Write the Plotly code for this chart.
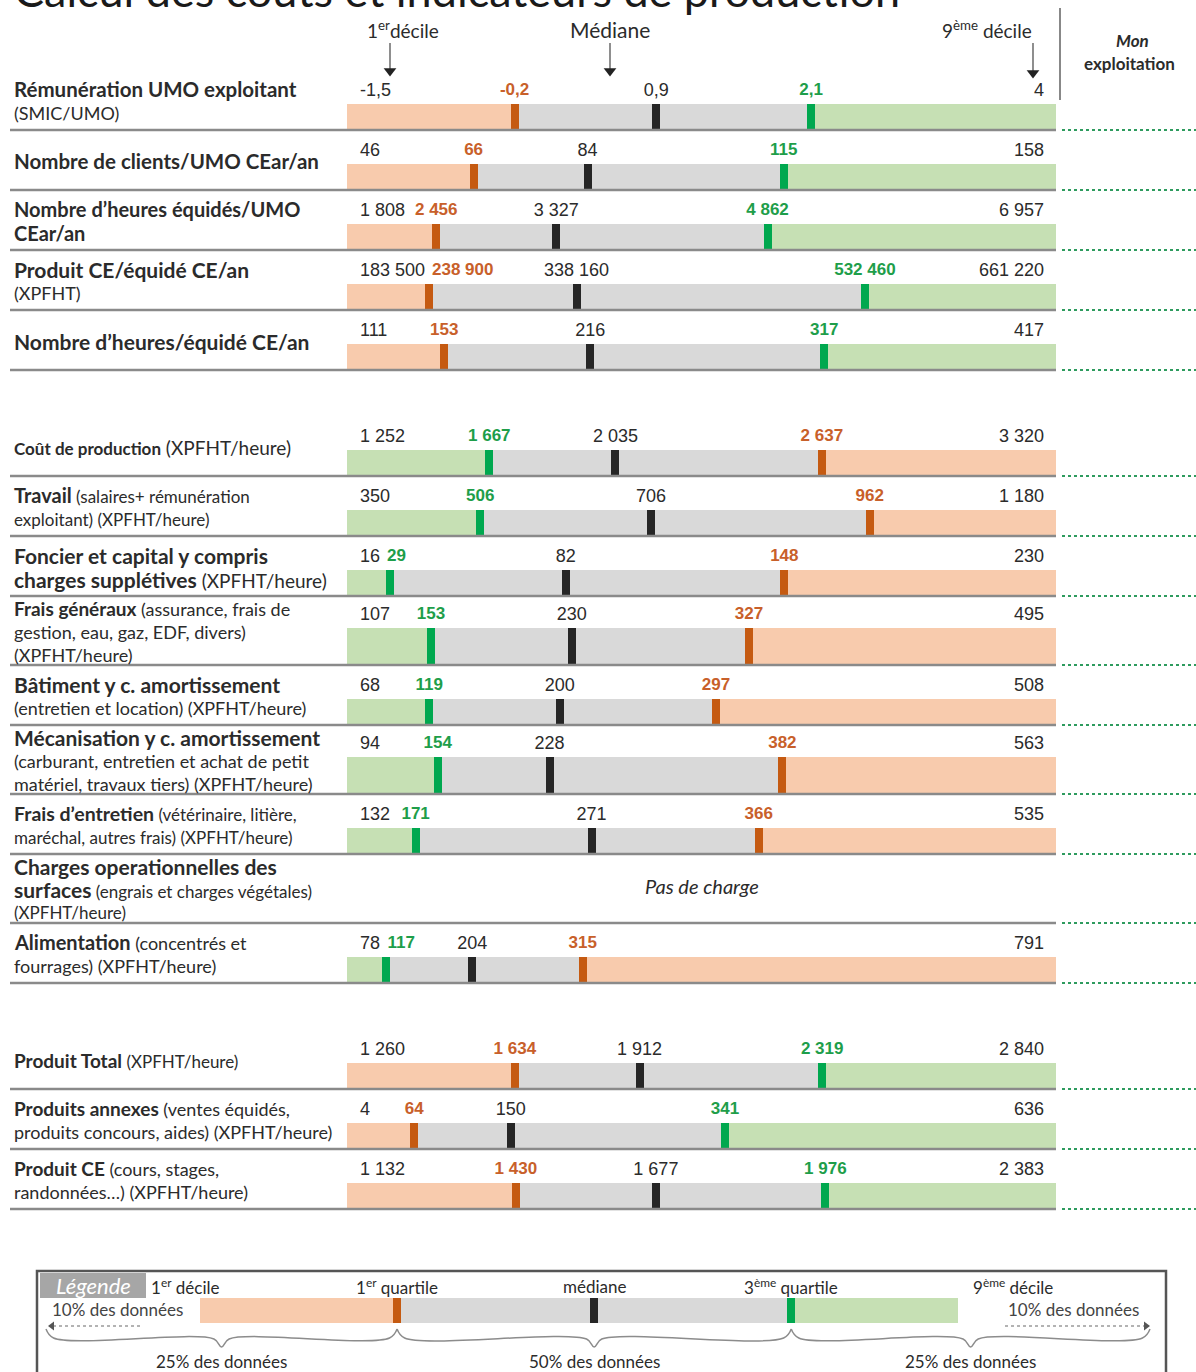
import plotly.graph_objects as go

W, H = 1196, 1372

# ---------------- data ----------------
row_titles = [
    "Rémunération UMO exploitant",
    "Nombre de clients/UMO CEar/an",
    "Nombre d’heures équidés/UMO\nCEar/an",
    "Produit CE/équidé CE/an",
    "Nombre d’heures/équidé CE/an",
    "Coût de production",
    "Travail",
    "Foncier et capital y compris\ncharges supplétives",
    "Frais généraux",
    "Bâtiment y c. amortissement",
    "Mécanisation y c. amortissement",
    "Frais d’entretien",
    "Charges operationnelles des\nsurfaces",
    "Alimentation",
    "Produit Total",
    "Produits annexes",
    "Produit CE",
]
row_details = [
    "\n(SMIC/UMO)",
    "",
    "",
    "\n(XPFHT)",
    "",
    " (XPFHT/heure)",
    " (salaires+ rémunération\nexploitant) (XPFHT/heure)",
    " (XPFHT/heure)",
    " (assurance, frais de\ngestion, eau, gaz, EDF, divers)\n(XPFHT/heure)",
    "\n(entretien et location) (XPFHT/heure)",
    "\n(carburant, entretien et achat de petit\nmatériel, travaux tiers) (XPFHT/heure)",
    " (vétérinaire, litière,\nmaréchal, autres frais) (XPFHT/heure)",
    " (engrais et charges végétales)\n(XPFHT/heure)",
    " (concentrés et\nfourrages) (XPFHT/heure)",
    " (XPFHT/heure)",
    " (ventes équidés,\nproduits concours, aides) (XPFHT/heure)",
    " (cours, stages,\nrandonnées…) (XPFHT/heure)",
]
decile1 = [-1.5, 46, 1808, 183500, 111, 1252, 350, 16, 107, 68, 94, 132, None, 78, 1260, 4, 1132]
quart1 = [-0.2, 66, 2456, 238900, 153, 1667, 506, 29, 153, 119, 154, 171, None, 117, 1634, 64, 1430]
median = [0.9, 84, 3327, 338160, 216, 2035, 706, 82, 230, 200, 228, 271, None, 204, 1912, 150, 1677]
quart3 = [2.1, 115, 4862, 532460, 317, 2637, 962, 148, 327, 297, 382, 366, None, 315, 2319, 341, 1976]
decile9 = [4, 158, 6957, 661220, 417, 3320, 1180, 230, 495, 508, 563, 535, None, 791, 2840, 636, 2383]
section = [0, 0, 0, 0, 0, 1, 1, 1, 1, 1, 1, 1, 1, 1, 2, 2, 2]
high_is_good = {0: True, 1: False, 2: True}
no_data_text = "Pas de charge"

legend_stats = [0, 26, 52, 78, 100]   # schematic example for the legend bar
legend_top = ["1<sup>er</sup> décile", "1<sup>er</sup> quartile", "médiane", "3<sup>ème</sup> quartile", "9<sup>ème</sup> décile"]
legend_bottom = ["25% des données", "50% des données", "25% des données"]

title_text = "Calcul des coûts et indicateurs de production"

# ---------------- styles ----------------
ORANGE_L, GRAY, GREEN_L = "#F8CBAD", "#D9D9D9", "#C6E0B4"
ORANGE_M, GREEN_M, DARK = "#C55A11", "#00A84F", "#262626"
ORANGE_T, GREEN_T = "#C8602A", "#1E9E4A"
TXT = "#2b2b2b"
LBL_FONT = "Lato, 'Open Sans', sans-serif"
NUM_FONT = "'Liberation Sans', Arial, sans-serif"
main_size = [20.5, 20.5, 20, 21, 21, 17, 20, 21, 19, 21, 21, 19.5, 21, 20, 19, 19, 19]
detail_size = [18, 18, 18, 18, 18, 19, 17, 19, 18, 18, 18, 17, 17, 18, 17, 18, 18]
NUM_SIZE, QNUM_SIZE = 18, 17

BAR_X0, BAR_X1 = 347, 1056          # pixel span of the bars
LG_X0, LG_X1 = 200, 958             # pixel span of the legend bar
SPAN = BAR_X1 - BAR_X0
def px2x(p):
    return (p - BAR_X0) / SPAN
def x2px(x):
    return BAR_X0 + x * SPAN
def lpx2x(p):
    return (p - LG_X0) / (LG_X1 - LG_X0) * (legend_stats[-1] - legend_stats[0]) + legend_stats[0]

def fr(v):
    if abs(v - round(v)) > 1e-9:
        return f"{v:.1f}".replace(".", ",")
    return f"{int(round(v)):,}".replace(",", "\u00a0")

def text_w(s, size):
    return sum(0.556 if c.isdigit() else (0.333 if c == "-" else 0.278) for c in s) * size

# ---------------- geometry of rows ----------------
n = len(row_titles)
line_sets = []
for i in range(n):
    mains = row_titles[i].split("\n")
    dets = row_details[i].split("\n")
    lines = [(f"<b>{m}</b>", main_size[i]) for m in mains]
    if dets[0].strip():
        h, s = lines[-1]
        lines[-1] = (h + f"<span style='font-size:{detail_size[i]}px'>{dets[0]}</span>", s)
    for d in dets[1:]:
        lines.append((d, detail_size[i]))
    line_sets.append(lines)
nlines = [len(l) for l in line_sets]
row_h = [69 if k >= 3 else 60 for k in nlines]
GAP, TOP0 = 46, 70
tops, bottoms = [], []
yy = TOP0
for i in range(n):
    if i > 0 and section[i] != section[i - 1]:
        yy += GAP
    tops.append(yy)
    yy += row_h[i]
    bottoms.append(yy)

fig = go.Figure()

seg_y, seg_len, seg_base, seg_w, seg_col = [], [], [], [], []
mk_y, mk_base, mk_w, mk_col = [], [], [], []
MW = 8 / SPAN
lab_d1 = ([], [], [])
lab_d9 = ([], [], [])
lab_md = ([], [], [])
lab_q = ([], [], [], [])

for i in range(n):
    if decile1[i] is None:
        continue
    lo, hi = decile1[i], decile9[i]
    p1 = (quart1[i] - lo) / (hi - lo)
    pm = (median[i] - lo) / (hi - lo)
    p3 = (quart3[i] - lo) / (hi - lo)
    good = high_is_good[section[i]]
    lc, rc = (ORANGE_L, GREEN_L) if good else (GREEN_L, ORANGE_L)
    lm, rm = (ORANGE_M, GREEN_M) if good else (GREEN_M, ORANGE_M)
    lt, rt = (ORANGE_T, GREEN_T) if good else (GREEN_T, ORANGE_T)
    bh = 36 if row_h[i] > 60 else 25
    cy = bottoms[i] - 1 - bh / 2
    for b, l, c in [(0, p1, lc), (p1, p3 - p1, GRAY), (p3, 1 - p3, rc)]:
        seg_y.append(cy); seg_base.append(b); seg_len.append(l); seg_w.append(bh); seg_col.append(c)
    for p, c in [(p1, lm), (pm, DARK), (p3, rm)]:
        mk_y.append(cy); mk_base.append(p - MW / 2); mk_w.append(bh); mk_col.append(c)
    ty = cy - bh / 2 - 13
    # label placement (avoid overlaps between neighbouring values)
    t1, tm, t3, tlo, thi = fr(quart1[i]), fr(median[i]), fr(quart3[i]), fr(lo), fr(hi)
    w1, wm, w3 = text_w(t1, QNUM_SIZE), text_w(tm, NUM_SIZE), text_w(t3, QNUM_SIZE)
    wlo, whi = text_w(tlo, NUM_SIZE), text_w(thi, NUM_SIZE)
    lo_left = BAR_X0 + 13
    hi_right = BAR_X1 - 12
    c1 = max(x2px(p1), lo_left + wlo + 7 + w1 / 2)
    cm = max(x2px(pm), c1 + w1 / 2 + 7 + wm / 2)
    c3 = min(x2px(p3), hi_right - whi - 7 - w3 / 2)
    c3 = max(c3, cm + wm / 2 + 7 + w3 / 2)
    lab_d1[0].append(px2x(lo_left)); lab_d1[1].append(ty); lab_d1[2].append(tlo)
    lab_d9[0].append(px2x(hi_right)); lab_d9[1].append(ty); lab_d9[2].append(thi)
    lab_md[0].append(px2x(cm)); lab_md[1].append(ty); lab_md[2].append(tm)
    for c, t, col in [(c1, t1, lt), (c3, t3, rt)]:
        lab_q[0].append(px2x(c)); lab_q[1].append(ty); lab_q[2].append(t); lab_q[3].append(col)

fig.add_trace(go.Bar(orientation="h", y=seg_y, x=seg_len, base=seg_base, width=seg_w,
                     marker=dict(color=seg_col, line=dict(width=0)), hoverinfo="skip"))
fig.add_trace(go.Bar(orientation="h", y=mk_y, x=[MW] * len(mk_y), base=mk_base, width=mk_w,
                     marker=dict(color=mk_col, line=dict(width=0)), hoverinfo="skip"))
fig.add_trace(go.Scatter(x=lab_d1[0], y=lab_d1[1], text=lab_d1[2], mode="text",
                         textposition="middle right", textfont=dict(family=NUM_FONT, size=NUM_SIZE, color=TXT),
                         hoverinfo="skip"))
fig.add_trace(go.Scatter(x=lab_d9[0], y=lab_d9[1], text=lab_d9[2], mode="text",
                         textposition="middle left", textfont=dict(family=NUM_FONT, size=NUM_SIZE, color=TXT),
                         hoverinfo="skip"))
fig.add_trace(go.Scatter(x=lab_md[0], y=lab_md[1], text=lab_md[2], mode="text",
                         textposition="middle center", textfont=dict(family=NUM_FONT, size=NUM_SIZE, color=TXT),
                         hoverinfo="skip"))
fig.add_trace(go.Scatter(x=lab_q[0], y=lab_q[1], text=lab_q[2], mode="text",
                         textposition="middle center",
                         textfont=dict(family=NUM_FONT, size=QNUM_SIZE, color=lab_q[3], weight="bold"),
                         hoverinfo="skip"))

annotations, shapes = [], []

# row labels, separators, "Mon exploitation" dotted lines
for i in range(n):
    lines = line_sets[i]
    k = len(lines)
    sp = 24 if k < 3 else 23
    cyl = (tops[i] + bottoms[i]) / 2 + 1
    for j, (html, sz) in enumerate(lines):
        annotations.append(dict(x=12 / W, xref="paper", y=cyl + (j - (k - 1) / 2) * sp, yref="y",
                                xanchor="left", yanchor="middle", align="left", showarrow=False,
                                text=html, font=dict(family=LBL_FONT, size=sz, color=TXT)))
    shapes.append(dict(type="line", xref="paper", yref="y", x0=10 / W, x1=BAR_X1 / W,
                       y0=bottoms[i], y1=bottoms[i], line=dict(color="#8a8a8a", width=2.5)))
    shapes.append(dict(type="line", xref="paper", yref="y", x0=1062 / W, x1=1,
                       y0=bottoms[i], y1=bottoms[i], line=dict(color="#2E9B5E", width=2, dash="dot")))
    if decile1[i] is None:
        annotations.append(dict(x=0.5, xref="x", y=(tops[i] + bottoms[i]) / 2 - 3, yref="y",
                                xanchor="center", text=f"<i>{no_data_text}</i>", showarrow=False,
                                font=dict(family=LBL_FONT, size=20, color=TXT)))

# title (cut at the top edge like the reference)
annotations.append(dict(x=12 / W, xref="paper", y=19, yref="y", xanchor="left", yanchor="bottom",
                        text=title_text, showarrow=False,
                        font=dict(family=LBL_FONT, size=45, color="#1a1a1a")))

# header labels and arrows
hdr = [("1<sup>er</sup>décile", 403, 390, 76, 19), ("Médiane", 610, 610, 76, 21),
       ("9<sup>ème</sup> décile", 987, 1033, 78, 19)]
for txt, tx, axx, ay, fs in hdr:
    annotations.append(dict(x=tx / W, xref="paper", y=29, yref="y", xanchor="center", text=txt,
                            showarrow=False, font=dict(family=LBL_FONT, size=fs, color=TXT)))
    fig.add_trace(go.Scatter(x=[px2x(axx), px2x(axx)], y=[43, ay - 6], mode="lines",
                             line=dict(color="#444", width=1.2), hoverinfo="skip"))
    fig.add_trace(go.Scatter(x=[px2x(axx)], y=[ay - 5], mode="markers",
                             marker=dict(symbol="triangle-down", size=11, color="#222"), hoverinfo="skip"))
annotations.append(dict(x=1132 / W, xref="paper", y=40, yref="y", xanchor="center", text="<b><i>Mon</i></b>",
                        showarrow=False, font=dict(family=LBL_FONT, size=17, color=TXT)))
annotations.append(dict(x=1129 / W, xref="paper", y=63, yref="y", xanchor="center", text="<b>exploitation</b>",
                        showarrow=False, font=dict(family=LBL_FONT, size=17, color=TXT)))
shapes.append(dict(type="line", xref="paper", yref="y", x0=1060 / W, x1=1060 / W, y0=8, y1=100,
                   line=dict(color="#888", width=2)))

# ---------------- legend ----------------
LY, LBH = 1310, 25
ls = legend_stats
lg_segs = [(ls[0], ls[1] - ls[0], ORANGE_L), (ls[1], ls[3] - ls[1], GRAY), (ls[3], ls[4] - ls[3], GREEN_L)]
fig.add_trace(go.Bar(orientation="h", y=[LY] * 3, x=[s[1] for s in lg_segs], base=[s[0] for s in lg_segs],
                     width=[LBH] * 3, marker=dict(color=[s[2] for s in lg_segs], line=dict(width=0)),
                     xaxis="x2", yaxis="y", hoverinfo="skip"))
lmw = 8 * (ls[-1] - ls[0]) / (LG_X1 - LG_X0)
fig.add_trace(go.Bar(orientation="h", y=[LY] * 3, x=[lmw] * 3,
                     base=[ls[1] - lmw / 2, ls[2] - lmw / 2, ls[3] - lmw / 2],
                     width=[LBH] * 3, marker=dict(color=[ORANGE_M, DARK, GREEN_M], line=dict(width=0)),
                     xaxis="x2", yaxis="y", hoverinfo="skip"))

# braces
ext_l, ext_r = lpx2x(46), lpx2x(1150)
brace_spans = [(ext_l, ls[1]), (ls[1], ls[3]), (ls[3], ext_r)]
u = 1.0
for (a, b), txt in zip(brace_spans, legend_bottom):
    m = (a + b) / 2
    bx = [a, a + u, m - u, m, m + u, b - u, b]
    by = [1329, 1338, 1339, 1347, 1339, 1338, 1329]
    fig.add_trace(go.Scatter(x=bx, y=by, mode="lines", line=dict(color="#8c8c8c", width=1.5, shape="spline"),
                             xaxis="x2", yaxis="y", hoverinfo="skip"))
    annotations.append(dict(x=m, xref="x2", y=1361, yref="y", xanchor="center", text=txt, showarrow=False,
                            font=dict(family=LBL_FONT, size=17, color=TXT)))

# legend top labels
top_x = [lpx2x(185), ls[1], ls[2], ls[3], lpx2x(1013)]
for tx, txt in zip(top_x, legend_top):
    annotations.append(dict(x=tx, xref="x2", y=1286, yref="y", xanchor="center", text=txt, showarrow=False,
                            font=dict(family=LBL_FONT, size=17, color=TXT)))
annotations.append(dict(x=50 / W, xref="paper", y=1309, yref="y", xanchor="left", text="10% des données",
                        showarrow=False, font=dict(family=LBL_FONT, size=17, color="#444")))
annotations.append(dict(x=1006 / W, xref="paper", y=1309, yref="y", xanchor="left", text="10% des données",
                        showarrow=False, font=dict(family=LBL_FONT, size=17, color="#444")))
# dotted arrows
for a, b, sym in [(lpx2x(140), lpx2x(52), "triangle-left"), (lpx2x(1005), lpx2x(1146), "triangle-right")]:
    fig.add_trace(go.Scatter(x=[a, b], y=[1326, 1326], mode="lines",
                             line=dict(color="#9a9a9a", width=1.5, dash="dot"),
                             xaxis="x2", yaxis="y", hoverinfo="skip"))
    fig.add_trace(go.Scatter(x=[b], y=[1326], mode="markers", marker=dict(symbol=sym, size=8, color="#555"),
                             xaxis="x2", yaxis="y", hoverinfo="skip"))

# legend frame + "Légende" tab
shapes.append(dict(type="rect", xref="paper", yref="y", x0=37 / W, x1=1166 / W, y0=1271, y1=1400,
                   line=dict(color="#555", width=2.5), fillcolor="rgba(0,0,0,0)"))
shapes.append(dict(type="rect", xref="paper", yref="y", x0=40 / W, x1=146 / W, y0=1273, y1=1298,
                   line=dict(width=0), fillcolor="#A6A6A6"))
annotations.append(dict(x=93 / W, xref="paper", y=1285, yref="y", xanchor="center", text="<i>Légende</i>",
                        showarrow=False, font=dict(family=LBL_FONT, size=22, color="white")))

fig.update_layout(
    width=W, height=H, margin=dict(l=0, r=0, t=0, b=0),
    paper_bgcolor="white", plot_bgcolor="white",
    barmode="overlay", bargap=0, showlegend=False,
    xaxis=dict(range=[px2x(0), px2x(W)], visible=False, fixedrange=True),
    xaxis2=dict(range=[lpx2x(0), lpx2x(W)], overlaying="x", anchor="y", visible=False, fixedrange=True),
    yaxis=dict(range=[H, 0], visible=False, fixedrange=True),
    annotations=annotations, shapes=shapes,
)

fig.write_html("out.html", config={"displayModeBar": False},
               post_script="document.body.style.margin='0';document.body.style.overflow='hidden';")
